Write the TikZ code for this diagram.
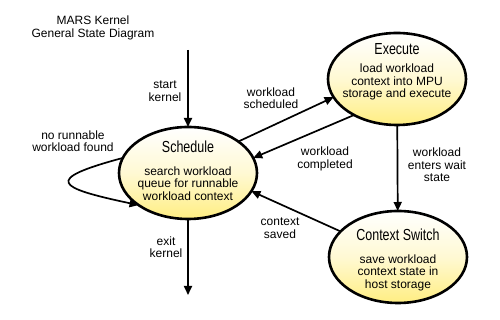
\documentclass[tikz,border=0pt]{standalone}
\usepackage{fontspec}
\setmainfont{Liberation Sans}
\newfontfamily\statefont[FakeStretch=0.78]{Liberation Sans}
\usetikzlibrary{arrows.meta,shapes.geometric}
\definecolor{stateyellow}{RGB}{255,238,130}

\begin{document}
\begin{tikzpicture}[x=1pt, y=1pt,
    state/.style={ellipse, draw, line width=2.6pt, inner sep=0, outer sep=0, minimum width=138pt, minimum height=92pt, top color=white, bottom color=stateyellow, middle color=stateyellow!35},
    arr/.style={line width=1.7pt, -{Triangle[length=9pt,width=8pt]}},
    lbl/.style={align=center, inner sep=0, font=\fontsize{12}{12.5}\selectfont},
    head/.style={inner sep=0, font=\statefont\fontsize{16}{16}\selectfont}]
        \useasboundingbox (0,0) rectangle (500,320);
%%% Start title
        \node[lbl] (title) at (93,292) {MARS Kernel\\General State Diagram};
%%% End title
%%% Start states
        \node[state] (sched) at (188,147) {};
        \node[state] (exec) at (397,241) {};
        \node[state] (ctx) at (398,63) {};
        \node[head] (schedhead) at ([yshift=26]sched.center) {Schedule};
        \node[lbl] (schedtext) at ([yshift=-10.5]sched.center) {search workload\\queue for runnable\\workload context};
        \node[head] (exechead) at ([yshift=30]exec.center) {Execute};
        \node[lbl] (exectext) at ([yshift=-3]exec.center) {load workload\\context into MPU\\storage and execute};
        \node[head] (ctxhead) at ([yshift=22.5]ctx.center) {Context Switch};
        \node[lbl] (ctxtext) at ([yshift=-15.5]ctx.center) {save workload\\context state in\\host storage};
%%% End states
%%% Start transitions
        \coordinate (kstart) at (188,270);
        \coordinate (kexit) at (188,25);
        \draw[arr] (kstart) -- (sched);
        \draw[arr] (sched) -- (kexit);
        \draw[arr] (sched.32) -- (exec.196);
        \draw[arr] (exec.220) -- (sched.13);
        \draw[arr] (exec) -- (ctx);
        \draw[arr] (ctx.156) -- (sched.-16);
        \draw[arr] (sched.167) to[out=195, in=168, looseness=4.3] (sched.213);
%%% End transitions
%%% Start transition labels
        \node[lbl] (startlbl) at (165,229) {start\\kernel};
        \node[lbl] (exitlbl) at (166,73) {exit\\kernel};
        \node[lbl] (schedlbl) at (271,222) {workload\\scheduled};
        \node[lbl] (donelbl) at (325,161) {workload\\completed};
        \node[lbl] (waitlbl) at (437,155) {workload\\enters wait\\state};
        \node[lbl] (savedlbl) at (280,92) {context\\saved};
        \node[lbl] (looplbl) at (73,179) {no runnable\\workload found};
%%% End transition labels
\end{tikzpicture}
\end{document}
